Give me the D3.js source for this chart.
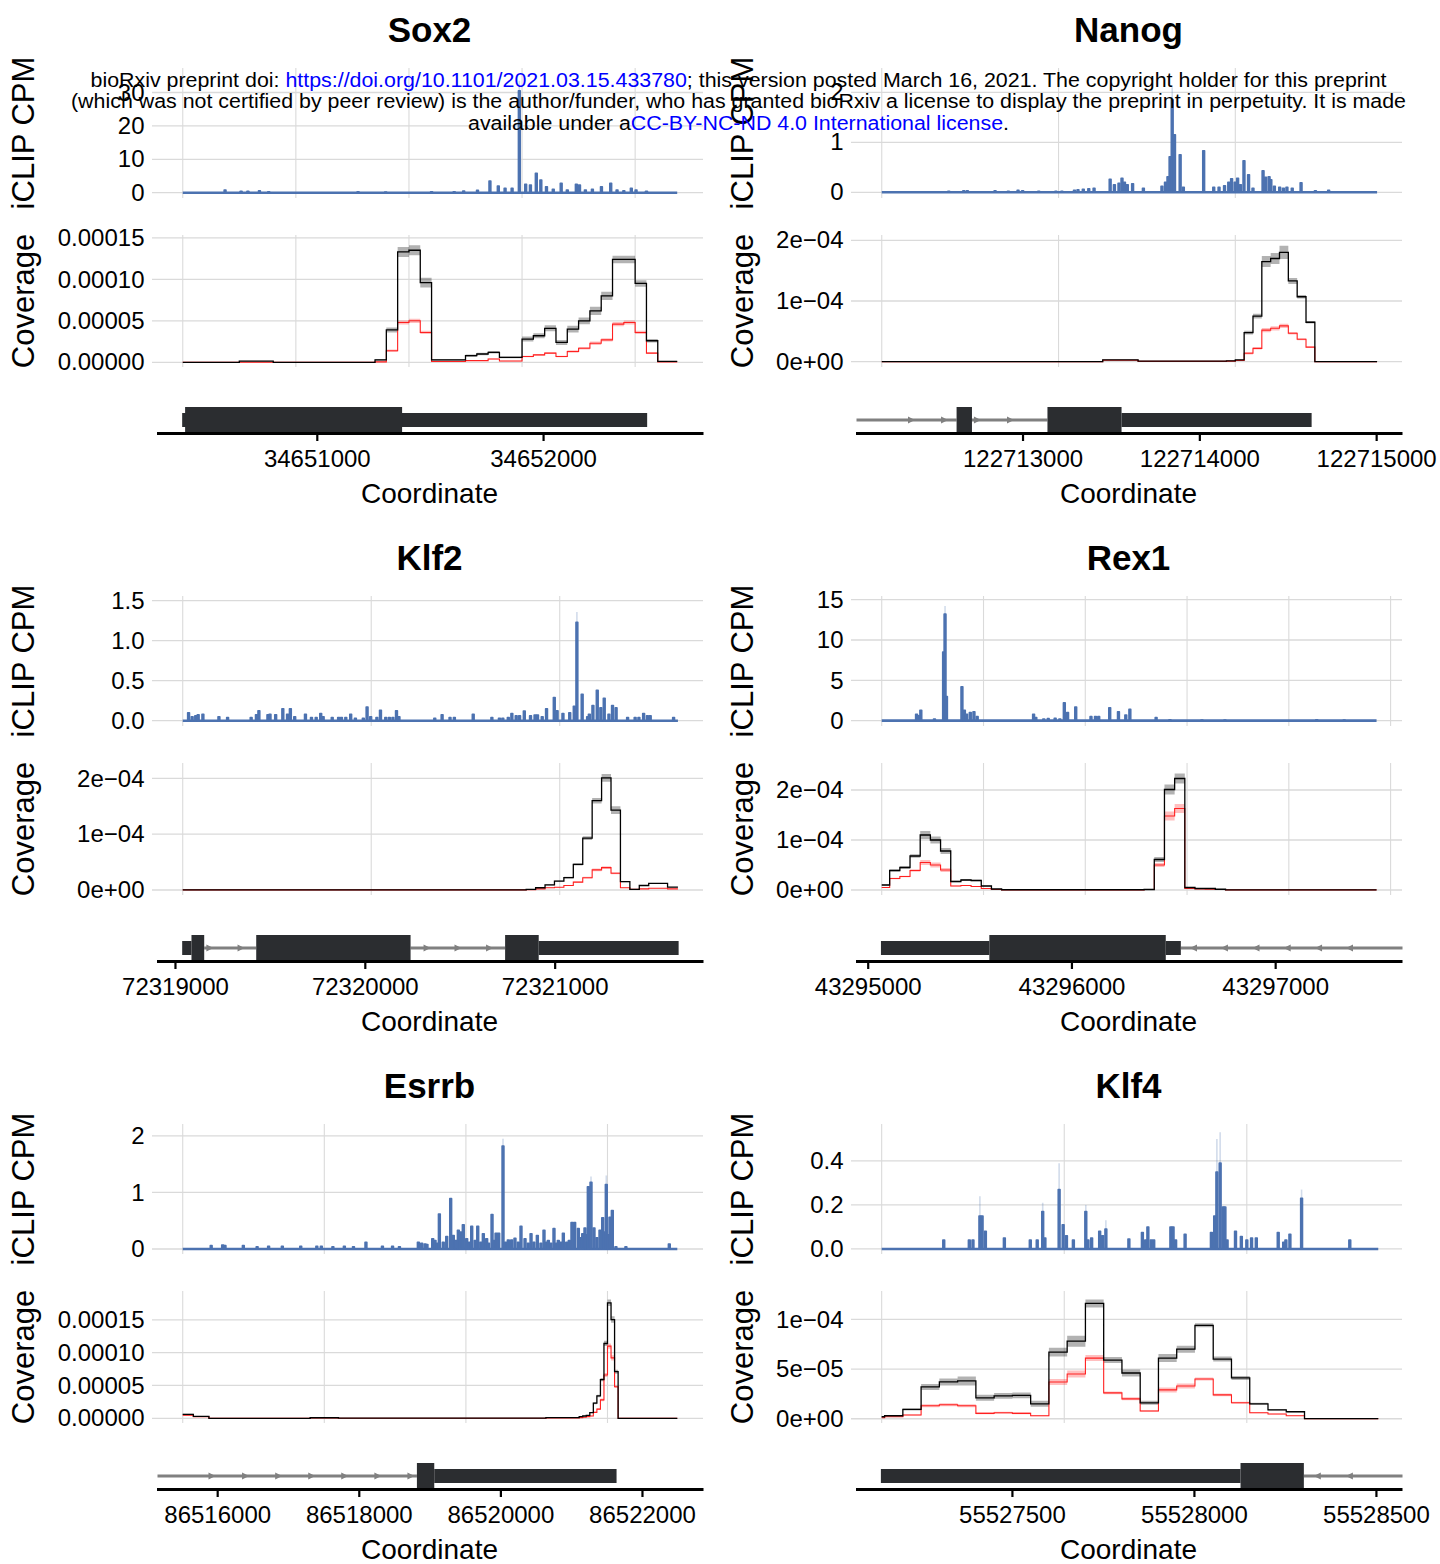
<!DOCTYPE html>
<html>
<head>
<meta charset="utf-8">
<script src="https://cdn.jsdelivr.net/npm/d3@7"></script>
<style>
body { margin: 0; background: #fff; }
text { font-family: "Liberation Sans", Arial, Helvetica, sans-serif; fill: #000; }
</style>
</head>
<body>
<svg id="fig" width="1440" height="1564"></svg>
<script>
// ---- data ----
// iCLIP peaks: [bp offset from region start, CPM, upper CI (optional)]
// coverage: bin edges in bp offset, values in units of 1e-5

var geneNames = ["Sox2", "Nanog", "Klf2", "Rex1", "Esrrb", "Klf4"];

// Sox2
var sox2Len = 2186;
var sox2Peaks = [[187,0.8],[258,0.4],[288,0.4],[339,0.6],[380,0.3],[775,0.3],[897,0.2],[1100,0.3],[1200,0.3],[1242,0.5],[1303,0.7],[1358,3.5],[1395,2.0],[1425,1.3],[1456,1.3],[1488,30.5,33.5],[1516,2.5],[1537,2.3],[1563,5.8],[1583,3.8],[1608,1.8],[1638,1.0],[1673,2.8],[1700,0.8],[1740,2.5],[1754,2.3],[1780,0.8],[1811,1.0],[1851,1.8],[1892,2.8],[1920,0.8],[1950,0.6],[1983,1.3],[2004,0.8],[2050,0.4]];
var sox2Edges = [0,250,400,850,900,950,1000,1050,1100,1250,1300,1350,1400,1500,1550,1600,1650,1700,1750,1800,1850,1900,1950,2000,2050,2100,2186];
var sox2Total = [0,0.15,0,0.3,3.9,13.3,13.5,9.6,0.3,0.8,1.0,1.2,0.6,2.8,3.2,4.1,2.4,4.0,5.0,6.2,8.0,12.4,12.4,9.5,2.6,0.1];
var sox2TotalSe = [0,0.05,0,0.1,0.3,0.6,0.6,0.6,0.1,0.15,0.15,0.15,0.1,0.3,0.3,0.35,0.3,0.4,0.4,0.5,0.5,0.45,0.45,0.4,0.2,0.03];
var sox2Red = [0,0,0,0.05,1.4,4.8,5.0,3.6,0.1,0.2,0.2,0.4,0.15,0.7,0.9,1.1,0.7,1.3,1.7,2.3,2.7,4.6,4.8,3.6,1.1,0.05];
var sox2RedSe = [0,0.03,0,0.05,0.15,0.25,0.25,0.2,0.05,0.05,0.05,0.05,0.05,0.1,0.1,0.1,0.1,0.15,0.15,0.2,0.2,0.25,0.25,0.2,0.1,0.02];
var sox2Utr = [[34650405,34652460]];
var sox2Cds = [[34650418,34651377]];
var sox2Introns = [];
var sox2Arrows = [];

// Nanog
var nanogLen = 2802;
var nanogPeaks = [[379,0.02],[464,0.03],[484,0.03],[641,0.03],[716,0.02],[771,0.04],[797,0.03],[888,0.02],[985,0.02],[1019,0.02],[1090,0.04],[1110,0.05],[1140,0.06],[1171,0.07],[1201,0.08],[1292,0.26],[1316,0.15],[1342,0.18],[1359,0.28],[1373,0.2],[1389,0.15],[1419,0.17],[1480,0.08],[1585,0.12],[1605,0.2],[1619,0.31],[1631,0.71],[1643,1.85,2.1],[1656,1.15],[1688,0.75],[1706,0.1],[1821,0.83],[1878,0.1],[1908,0.1],[1939,0.13],[1963,0.2],[1979,0.27],[1999,0.2],[2013,0.28],[2029,0.15],[2049,0.63],[2075,0.35],[2100,0.08],[2157,0.43],[2171,0.3],[2191,0.31],[2201,0.25],[2221,0.12],[2251,0.1],[2272,0.08],[2292,0.1],[2322,0.08],[2372,0.19],[2453,0.03],[2528,0.04]];
var nanogEdges = [0,1250,1450,1950,2000,2050,2100,2150,2200,2250,2300,2350,2400,2450,2802];
var nanogTotal = [0,0.3,0.1,0.15,0.3,4.8,7.5,16.5,17.0,18.0,13.3,10.7,6.5,0];
var nanogTotalSe = [0,0.05,0.02,0.03,0.05,0.3,0.4,0.9,0.9,1.1,0.5,0.3,0.2,0];
var nanogRed = [0,0.25,0.05,0.1,0.2,1.4,2.2,5.2,5.5,5.9,4.7,3.7,2.4,0];
var nanogRedSe = [0,0.04,0.02,0.02,0.04,0.2,0.2,0.35,0.35,0.35,0.2,0.15,0.1,0];
var nanogUtr = [[122713560,122714635]];
var nanogCds = [[122712627,122712714],[122713141,122713560]];
var nanogIntrons = [[122712061,122712627],[122712714,122713141]];
var nanogArrows = [122712372,122712559,122712745,122712932];

// Klf2
var klf2Len = 2627;
var klf2Peaks = [[31,0.10],[50,0.05],[69,0.06],[82,0.075],[107,0.08],[192,0.05],[238,0.04],[363,0.04],[391,0.075],[404,0.125],[452,0.075],[463,0.08],[493,0.075],[531,0.15],[556,0.08],[571,0.15],[594,0.05],[651,0.08],[683,0.04],[708,0.04],[732,0.09],[745,0.05],[793,0.04],[827,0.04],[842,0.04],[865,0.04],[891,0.08],[916,0.03],[958,0.03],[978,0.17],[997,0.05],[1030,0.04],[1049,0.13],[1077,0.04],[1096,0.04],[1115,0.04],[1134,0.125],[1147,0.05],[1337,0.03],[1376,0.075],[1418,0.04],[1441,0.04],[1541,0.08],[1640,0.04],[1680,0.03],[1698,0.03],[1727,0.04],[1746,0.09],[1769,0.06],[1787,0.06],[1812,0.12],[1845,0.06],[1869,0.07],[1882,0.07],[1907,0.05],[1930,0.15],[1971,0.29],[1986,0.125],[2017,0.09],[2053,0.1],[2077,0.18],[2091,1.23,1.36],[2119,0.33],[2148,0.05],[2157,0.08],[2176,0.19],[2199,0.38],[2218,0.16],[2236,0.28],[2261,0.08],[2280,0.19],[2299,0.16],[2360,0.04],[2400,0.04],[2420,0.04],[2445,0.09],[2465,0.06],[2480,0.06],[2604,0.04]];
var klf2Edges = [0,1822,1872,1922,1972,2022,2072,2122,2172,2222,2272,2322,2372,2422,2472,2572,2627];
var klf2Total = [0.03,0.1,0.4,0.9,1.6,2.2,4.6,9.3,16.0,20.1,14.3,1.5,0.1,0.8,1.2,0.5];
var klf2TotalSe = [0,0.03,0.05,0.08,0.1,0.15,0.2,0.35,0.5,0.7,0.7,0.1,0.02,0.05,0.05,0.05];
var klf2Red = [0.01,0.05,0.2,0.4,0.5,0.8,1.4,2.2,3.6,4.0,3.0,0.4,0.1,0.2,0.3,0.2];
var klf2RedSe = [0,0.02,0.03,0.04,0.05,0.08,0.1,0.15,0.25,0.25,0.2,0.05,0.02,0.03,0.03,0.03];
var klf2Utr = [[72319038,72319087],[72320916,72321653]];
var klf2Cds = [[72319087,72319154],[72319428,72320241],[72320739,72320916]];
var klf2Introns = [[72319154,72319428],[72320241,72320739]];
var klf2Arrows = [72319184,72319348,72320328,72320491,72320657];

// Rex1
var rex1Len = 2431;
var rex1Peaks = [[171,0.8],[180,0.6],[192,1.3],[259,0.2],[304,8.5],[311,13.2,14.2],[318,3.0],[394,4.2],[406,1.3],[417,0.8],[435,1.0],[453,1.1],[469,0.5],[746,0.8],[757,0.4],[796,0.2],[818,0.25],[852,0.3],[875,0.2],[897,2.2],[913,1.0],[953,1.7],[1028,0.5],[1050,0.5],[1066,0.5],[1120,1.6],[1163,1.1],[1199,0.7],[1219,1.4],[1348,0.4],[1416,0.1],[1573,0.08],[1686,0.08],[2137,0.1],[2272,0.08]];
var rex1Edges = [0,39,89,139,189,239,289,339,389,439,489,539,589,1289,1339,1389,1439,1489,1539,1589,1639,1689,2431];
var rex1Total = [1.0,3.9,4.5,6.8,11.0,10.0,7.8,1.7,2.0,1.9,0.8,0.2,0.05,0.1,6.1,20.1,22.3,0.5,0.3,0.3,0.15,0.03];
var rex1TotalSe = [0.1,0.2,0.25,0.35,0.8,0.7,0.6,0.15,0.2,0.15,0.08,0.03,0,0.02,0.5,1.0,1.0,0.05,0.03,0.03,0.02,0];
var rex1Red = [0.5,2.3,2.7,3.9,5.5,5.0,4.0,0.8,0.9,0.7,0.3,0.1,0.03,0.1,5.0,14.8,16.3,0.3,0.2,0.15,0.1,0.02];
var rex1RedSe = [0.05,0.15,0.15,0.25,0.5,0.5,0.4,0.08,0.1,0.08,0.04,0.02,0,0.02,0.4,0.9,0.9,0.04,0.02,0.02,0.01,0];
var rex1Utr = [[43295065,43295597],[43296463,43296537]];
var rex1Cds = [[43295597,43296463]];
var rex1Introns = [[43296537,43297625]];
var rex1Arrows = [43296599,43296751,43296906,43297059,43297213,43297365];

// Esrrb
var esrrbLen = 6986;
var esrrbPeaks = [[402,0.06],[564,0.07],[597,0.06],[856,0.06],[1051,0.04],[1213,0.05],[1407,0.05],[1667,0.05],[1894,0.05],[1958,0.05],[2121,0.04],[2283,0.05],[2412,0.04],[2588,0.12],[2821,0.05],[2964,0.05],[3061,0.04],[3328,0.12],[3375,0.1],[3422,0.09],[3450,0.08],[3531,0.18],[3564,0.15],[3600,0.1],[3625,0.62],[3680,0.12],[3729,0.22],[3785,0.89],[3822,0.24],[3860,0.15],[3893,0.33],[3925,0.3],[3963,0.43],[4011,0.18],[4050,0.12],[4082,0.4],[4130,0.15],[4167,0.4],[4210,0.12],[4246,0.27],[4293,0.18],[4320,0.1],[4369,0.61],[4400,0.15],[4426,0.28],[4463,0.28],[4524,1.82,1.95],[4560,0.12],[4599,0.16],[4646,0.16],[4693,0.19],[4740,0.12],[4778,0.4],[4835,0.18],[4880,0.1],[4920,0.27],[4960,0.12],[5009,0.24],[5060,0.1],[5103,0.33],[5140,0.12],[5164,0.15],[5200,0.1],[5244,0.36],[5280,0.1],[5305,0.15],[5340,0.12],[5376,0.28],[5424,0.12],[5460,0.15],[5498,0.47],[5536,0.47],[5588,0.36],[5620,0.2],[5650,0.27],[5682,0.37],[5700,0.25],[5729,1.1],[5767,1.18,1.28],[5809,0.37],[5850,0.2],[5894,0.33],[5932,0.55],[5960,0.3],[5983,1.14,1.3],[6010,0.25],[6035,0.56],[6068,0.68],[6119,0.04],[6260,0.04],[6873,0.09]];
var esrrbEdges = [0,150,370,1800,2200,5130,5600,5650,5700,5750,5800,5850,5900,5950,6000,6050,6100,6150,6986];
var esrrbTotal = [0.6,0.3,0,0.08,0.02,0.1,0.25,0.35,0.45,0.87,2.3,3.4,5.9,11.4,17.6,15.05,7.1,0];
var esrrbTotalSe = [0.1,0.05,0,0.02,0,0.02,0.03,0.04,0.05,0.08,0.15,0.2,0.25,0.4,0.5,0.5,0.3,0];
var esrrbRed = [0.45,0.25,0,0.05,0.01,0.05,0.1,0.15,0.25,0.35,0.9,1.4,2.8,6.6,11.0,9.2,4.8,0];
var esrrbRedSe = [0.08,0.04,0,0.02,0,0.02,0.02,0.03,0.04,0.05,0.1,0.12,0.2,0.3,0.4,0.4,0.2,0];
var esrrbUtr = [[86519066,86521641]];
var esrrbCds = [[86518821,86519066]];
var esrrbIntrons = [[86515157,86518821]];
var esrrbArrows = [86515927,86516401,86516869,86517336,86517802,86518270,86518737];

// Klf4
var klf4Len = 1360;
var klf4Peaks = [[170,0.04],[240,0.04],[250,0.04],[269,0.15,0.24],[275,0.15],[284,0.08],[336,0.05],[407,0.04],[426,0.04],[441,0.17,0.21],[447,0.05],[486,0.27,0.39],[497,0.11],[506,0.06],[525,0.04],[559,0.17,0.2],[565,0.04],[575,0.05],[597,0.08],[605,0.06],[614,0.09,0.13],[677,0.045],[714,0.075],[723,0.04],[729,0.1],[738,0.04],[745,0.04],[792,0.1],[798,0.1],[805,0.04],[831,0.067],[903,0.075],[912,0.15],[918,0.35,0.5],[927,0.39,0.53],[935,0.19],[940,0.19],[946,0.04],[969,0.08],[985,0.056],[1000,0.04],[1013,0.05],[1026,0.05],[1086,0.075],[1101,0.03],[1107,0.04],[1118,0.067],[1150,0.23,0.27],[1282,0.04]];
var klf4Edges = [0,8,58,108,158,208,258,308,358,408,458,508,558,608,658,708,758,808,858,908,958,1008,1058,1108,1158,1360];
var klf4Total = [0.2,0.3,0.94,3.2,3.7,3.8,2.1,2.3,2.35,1.5,6.7,7.8,11.6,5.9,4.6,1.6,6.1,7.0,9.4,6.0,4.1,1.5,0.9,0.7,0.02];
var klf4TotalSe = [0.02,0.05,0.1,0.3,0.35,0.45,0.3,0.3,0.3,0.3,0.45,0.55,0.4,0.3,0.35,0.2,0.4,0.35,0.2,0.25,0.2,0.1,0.08,0.06,0];
var klf4Red = [0.1,0.2,0.37,1.3,1.4,1.3,0.54,0.6,0.54,0.3,3.7,4.5,6.1,2.6,2.0,0.77,2.9,3.3,4.0,2.4,1.6,0.6,0.47,0.3,0.01];
var klf4RedSe = [0.02,0.03,0.05,0.15,0.15,0.15,0.1,0.1,0.1,0.05,0.3,0.35,0.3,0.15,0.15,0.08,0.25,0.25,0.15,0.15,0.1,0.05,0.04,0.03,0];
var klf4Utr = [[55527140,55528128]];
var klf4Cds = [[55528128,55528302]];
var klf4Introns = [[55528302,55528573]];
var klf4Arrows = [55528339,55528427];

// axes: unlabeled x range of the top panels (bp offset), vertical grid, y ranges and ticks
var topDomains = [[-136,2300],[-174,2943],[-163,2760],[-151,2556],[-434,7349],[-84,1425]];
var topGrids = [[0,500,1000,1500,2000],[0,1000,2000],[0,1000,2000],[0,500,1000,1500,2000,2500],[0,2000,4000,6000],[0,500,1000]];
var cpmDomains = [[-1.59,37.34],[-0.114,2.486],[-0.066,1.559],[-0.66,15.45],[-0.088,2.21],[-0.023,0.568]];
var cpmTicks = [[0,10,20,30],[0,1,2],[0,0.5,1,1.5],[0,5,10,15],[0,1,2],[0,0.2,0.4]];
var cpmLabels = [["0","10","20","30"],["0","1","2"],["0.0","0.5","1.0","1.5"],["0","5","10","15"],["0","1","2"],["0.0","0.2","0.4"]];
var covDomains = [[-0.566,15.34],[-0.87,20.87],[-0.9,22.76],[-1.0,25.4],[-0.72,19.4],[-0.43,12.85]];
var covTicks = [[0,5,10,15],[0,10,20],[0,10,20],[0,10,20],[0,5,10,15],[0,5,10]];
var covLabels = [["0.00000","0.00005","0.00010","0.00015"],["0e+00","1e\u221204","2e\u221204"],["0e+00","1e\u221204","2e\u221204"],["0e+00","1e\u221204","2e\u221204"],["0.00000","0.00005","0.00010","0.00015"],["0e+00","5e\u221205","1e\u221204"]];
var trackDomains = [[34650296,34652709],[122712061,122715149],[72318908,72321784],[43294945,43297625],[86515157,86522869],[55527073,55528573]];
var trackTicks = [[34651000,34652000],[122713000,122714000,122715000],[72319000,72320000,72321000],[43295000,43296000,43297000],[86516000,86518000,86520000,86522000],[55527500,55528000,55528500]];
var strands = ["+", "+", "+", "-", "+", "-"];

var genes = [
	{len: sox2Len, peaks: sox2Peaks, edges: sox2Edges, total: sox2Total, totalSe: sox2TotalSe, red: sox2Red, redSe: sox2RedSe, utr: sox2Utr, cds: sox2Cds, introns: sox2Introns, arrows: sox2Arrows},
	{len: nanogLen, peaks: nanogPeaks, edges: nanogEdges, total: nanogTotal, totalSe: nanogTotalSe, red: nanogRed, redSe: nanogRedSe, utr: nanogUtr, cds: nanogCds, introns: nanogIntrons, arrows: nanogArrows},
	{len: klf2Len, peaks: klf2Peaks, edges: klf2Edges, total: klf2Total, totalSe: klf2TotalSe, red: klf2Red, redSe: klf2RedSe, utr: klf2Utr, cds: klf2Cds, introns: klf2Introns, arrows: klf2Arrows},
	{len: rex1Len, peaks: rex1Peaks, edges: rex1Edges, total: rex1Total, totalSe: rex1TotalSe, red: rex1Red, redSe: rex1RedSe, utr: rex1Utr, cds: rex1Cds, introns: rex1Introns, arrows: rex1Arrows},
	{len: esrrbLen, peaks: esrrbPeaks, edges: esrrbEdges, total: esrrbTotal, totalSe: esrrbTotalSe, red: esrrbRed, redSe: esrrbRedSe, utr: esrrbUtr, cds: esrrbCds, introns: esrrbIntrons, arrows: esrrbArrows},
	{len: klf4Len, peaks: klf4Peaks, edges: klf4Edges, total: klf4Total, totalSe: klf4TotalSe, red: klf4Red, redSe: klf4RedSe, utr: klf4Utr, cds: klf4Cds, introns: klf4Introns, arrows: klf4Arrows}
];

// ---- layout ----
var svg = d3.select("#fig");
var colX = [0, 720], panelLeft = [152, 131], titleX = [34, 33];
var rowH = 528, panelW = 551;
var blue = "#4c72b0", geneCol = "#2b2d30", intronCol = "#808080";

var stepPts = function(edges, v, se) { // one point per bin start, plus closing point
	var pts = edges.slice(0, -1).map(function(e, i) {
		return {x: e, v: v[i], se: se[i]};
	});
	var n = v.length - 1;
	pts.push({x: edges[edges.length - 1], v: v[n], se: se[n]});
	return pts;
};

var drawGene = function(k) {
	var gd = genes[k], col = k % 2, row = Math.floor(k / 2);
	var L = panelLeft[col], R = L + panelW;
	var g = svg.append("g")
		.attr("transform", "translate(" + colX[col] + "," + (row * rowH) + ")");

	var x = d3.scaleLinear().domain(topDomains[k]).range([L, R]);
	var yC = d3.scaleLinear().domain(cpmDomains[k]).range([198, 68]);
	var yV = d3.scaleLinear().domain(covDomains[k]).range([367, 235]);
	var xT = d3.scaleLinear().domain(trackDomains[k]).range([L + 5.5, R + 0.5]);

	g.append("text")
		.attr("x", (L + R) / 2 + 2).attr("y", 42)
		.attr("text-anchor", "middle")
		.attr("font-size", 35).attr("font-weight", "bold")
		.text(geneNames[k]);

	// grids + y axes for the two upper panels
	[[yC, cpmTicks[k], cpmLabels[k], "iCLIP CPM"], [yV, covTicks[k], covLabels[k], "Coverage"]].forEach(function(p) {
		var ys = p[0], r = ys.range();
		var grid = g.append("g").attr("class", "grid");
		grid.selectAll("line.h").data(p[1]).enter().append("line")
			.attr("x1", L).attr("x2", R)
			.attr("y1", function(d) { return ys(d); })
			.attr("y2", function(d) { return ys(d); })
			.attr("stroke", "#dadada").attr("stroke-width", 1.3);
		grid.selectAll("line.v").data(topGrids[k]).enter().append("line")
			.attr("x1", function(d) { return x(d); })
			.attr("x2", function(d) { return x(d); })
			.attr("y1", r[1]).attr("y2", r[0])
			.attr("stroke", "#dadada").attr("stroke-width", 1.1);

		var ax = g.append("g")
			.attr("transform", "translate(" + L + ",0)")
			.call(d3.axisLeft(ys).tickValues(p[1]).tickSize(0).tickPadding(7.5)
				.tickFormat(function(d, i) { return p[2][i]; }));
		ax.select(".domain").remove();
		ax.selectAll("text").attr("font-size", 24).attr("fill", "#000")
			.attr("font-family", "'Liberation Sans', Arial, sans-serif");

		g.append("text")
			.attr("transform", "translate(" + titleX[col] + "," + ((r[0] + r[1]) / 2) + ") rotate(-90)")
			.attr("text-anchor", "middle")
			.attr("font-size", 31)
			.text(p[3]);
	});

	// iCLIP track
	g.append("line")
		.attr("x1", x(0)).attr("x2", x(gd.len))
		.attr("y1", yC(0)).attr("y2", yC(0))
		.attr("stroke", blue).attr("stroke-width", 2.6);
	g.selectAll("line.ci").data(gd.peaks.filter(function(d) { return d.length > 2; }))
		.enter().append("line")
		.attr("x1", function(d) { return x(d[0]); })
		.attr("x2", function(d) { return x(d[0]); })
		.attr("y1", function(d) { return yC(d[1]); })
		.attr("y2", function(d) { return yC(d[2]); })
		.attr("stroke", blue).attr("stroke-opacity", 0.25).attr("stroke-width", 1.6);
	g.selectAll("path.pk").data(gd.peaks).enter().append("path")
		.attr("d", function(d) {
			var px = x(d[0]), y0 = yC(0), y1 = yC(d[1]);
			return "M" + (px - 0.9) + "," + y0 + "L" + (px - 0.9) + "," + y1 +
				"L" + (px + 0.9) + "," + y1 + "L" + (px + 0.9) + "," + y0 + "Z";
		})
		.attr("fill", blue).attr("stroke", blue)
		.attr("stroke-width", 1.6).attr("stroke-linejoin", "round");

	// coverage track
	var totPts = stepPts(gd.edges, gd.total, gd.totalSe);
	var redPts = stepPts(gd.edges, gd.red, gd.redSe);
	var band = d3.area().curve(d3.curveStepAfter)
		.x(function(d) { return x(d.x); })
		.y0(function(d) { return yV(d.v - d.se); })
		.y1(function(d) { return yV(d.v + d.se); });
	var step = d3.line().curve(d3.curveStepAfter)
		.x(function(d) { return x(d.x); })
		.y(function(d) { return yV(d.v); });
	g.append("path").datum(totPts).attr("d", band).attr("fill", "#000").attr("fill-opacity", 0.3);
	g.append("path").datum(redPts).attr("d", band).attr("fill", "#ff0000").attr("fill-opacity", 0.25);
	g.append("path").datum(redPts).attr("d", step).attr("fill", "none").attr("stroke", "#ff2020").attr("stroke-width", 1.1);
	g.append("path").datum(totPts).attr("d", step).attr("fill", "none").attr("stroke", "#000").attr("stroke-width", 1.3);

	// gene model
	g.selectAll("line.intron").data(gd.introns).enter().append("line")
		.attr("x1", function(d) { return xT(d[0]); })
		.attr("x2", function(d) { return xT(d[1]); })
		.attr("y1", 420).attr("y2", 420)
		.attr("stroke", intronCol).attr("stroke-width", 3);
	var dir = strands[k] === "+" ? 1 : -1;
	g.selectAll("path.arrow").data(gd.arrows).enter().append("path")
		.attr("transform", function(d) { return "translate(" + xT(d) + ",420) scale(" + dir + ",1)"; })
		.attr("d", "M-3.5,-3.5L3.5,0L-3.5,3.5Z")
		.attr("fill", intronCol);
	g.selectAll("rect.utr").data(gd.utr).enter().append("rect")
		.attr("x", function(d) { return xT(d[0]); })
		.attr("width", function(d) { return xT(d[1]) - xT(d[0]); })
		.attr("y", 413).attr("height", 14)
		.attr("fill", geneCol);
	g.selectAll("rect.cds").data(gd.cds).enter().append("rect")
		.attr("x", function(d) { return xT(d[0]); })
		.attr("width", function(d) { return xT(d[1]) - xT(d[0]); })
		.attr("y", 407).attr("height", 25)
		.attr("fill", geneCol);

	// coordinate axis
	g.append("line")
		.attr("x1", xT.range()[0] - 0.5).attr("x2", xT.range()[1])
		.attr("y1", 433.5).attr("y2", 433.5)
		.attr("stroke", "#000").attr("stroke-width", 3);
	var tAx = g.append("g")
		.attr("transform", "translate(0,435)")
		.call(d3.axisBottom(xT).tickValues(trackTicks[k]).tickSize(6).tickPadding(9)
			.tickFormat(d3.format("d")));
	tAx.select(".domain").remove();
	tAx.selectAll("line").attr("stroke", "#000").attr("stroke-width", 2.2);
	tAx.selectAll("text").attr("font-size", 24).attr("fill", "#000")
		.attr("font-family", "'Liberation Sans', Arial, sans-serif");

	g.append("text")
		.attr("x", (L + R) / 2 + 2).attr("y", 503)
		.attr("text-anchor", "middle")
		.attr("font-size", 28)
		.text("Coordinate");
};

d3.range(6).forEach(drawGene);

// bioRxiv stamp over the top row
var stamp = [
	{y: 87, w: 1296, parts: [["bioRxiv preprint doi: ", "#000"], ["https://doi.org/10.1101/2021.03.15.433780", "#0000ff"], ["; this version posted March 16, 2021. The copyright holder for this preprint", "#000"]]},
	{y: 108, w: 1335, parts: [["(which was not certified by peer review) is the author/funder, who has granted bioRxiv a license to display the preprint in perpetuity. It is made", "#000"]]},
	{y: 130, w: 541, parts: [["available under a", "#000"], ["CC-BY-NC-ND 4.0 International license", "#0000ff"], [".", "#000"]]}
];
stamp.forEach(function(s) {
	var t = svg.append("text")
		.attr("x", 738.5).attr("y", s.y)
		.attr("text-anchor", "middle")
		.attr("font-size", 20)
		.attr("textLength", s.w).attr("lengthAdjust", "spacingAndGlyphs");
	s.parts.forEach(function(p) {
		t.append("tspan").style("fill", p[1]).text(p[0]);
	});
});
</script>
</body>
</html>
